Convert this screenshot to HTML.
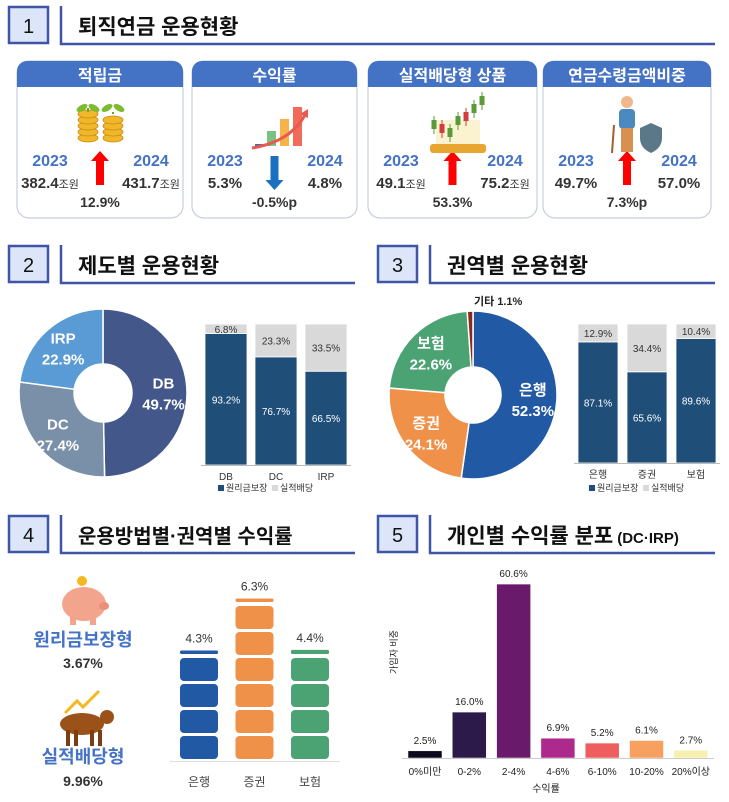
<!DOCTYPE html>
<html><head><meta charset="utf-8">
<style>
html,body{margin:0;padding:0;background:#fff;}
svg{display:block;font-family:"Liberation Sans","Noto Sans CJK KR",sans-serif;}
</style></head>
<body>
<svg id="main" width="729" height="802" viewBox="0 0 729 802" xmlns="http://www.w3.org/2000/svg">
<g id="headers"></g>
<g id="cards"></g>
<g id="donut1"></g><g id="bars1"></g>
<g id="donut2"></g><g id="bars2"></g>
<g id="sec4"></g><g id="blocks"></g>
<g id="hist"></g>
</svg>
<script>
const NS='http://www.w3.org/2000/svg';
function mk(parent,tag,attrs,text){const e=document.createElementNS(NS,tag);for(const k in attrs)e.setAttribute(k,attrs[k]);if(text!==undefined)e.textContent=text;parent.appendChild(e);return e;}
const $=id=>document.getElementById(id);

// ---------- data ----------
const sectionNums=['1','2','3','4','5'];
const sectionTitles=['퇴직연금  운용현황','제도별  운용현황','권역별  운용현황','운용방법별·권역별  수익률','개인별  수익률  분포'];
const cardTitles=['적립금','수익률','실적배당형 상품','연금수령금액비중'];
const cardV23=['382.4','5.3%','49.1','49.7%'];
const cardV24=['431.7','4.8%','75.2','57.0%'];
const cardUnit=['조원','','조원',''];
const cardChange=['12.9%','-0.5%p','53.3%','7.3%p'];
const cardUp=[true,false,true,true];

const d1Labels=['DB','DC','IRP'];
const d1Values=[49.7,27.4,22.9];
const b1Cats=['DB','DC','IRP'];
const b1Guar=[93.2,76.7,66.5];
const b1Perf=[6.8,23.3,33.5];

const d2Labels=['은행','증권','보험','기타'];
const d2Values=[52.3,24.1,22.6,1.1];
const b2Cats=['은행','증권','보험'];
const b2Guar=[87.1,65.6,89.6];
const b2Perf=[12.9,34.4,10.4];

const blkCats=['은행','증권','보험'];
const blkValues=[4.3,6.3,4.4];

const histCats=['0%미만','0-2%','2-4%','4-6%','6-10%','10-20%','20%이상'];
const histValues=[2.5,16.0,60.6,6.9,5.2,6.1,2.7];

// ---------- headers ----------
const H=$('headers');
const hdrPos=[{x:8,y:6,w:715},{x:8,y:245,w:355},{x:377,y:245,w:715},{x:8,y:515,w:355},{x:377,y:515,w:715}];
hdrPos.forEach((p,i)=>{
  const g=mk(H,'g',{});
  
  
  mk(g,'rect',{x:p.x+1,y:p.y+1,width:39,height:36,fill:'#dce6f8',stroke:'#3f55a5','stroke-width':2.5});
  mk(g,'text',{x:p.x+20.5,y:p.y+27,'font-size':20,'text-anchor':'middle',fill:'#111'},sectionNums[i]);
  mk(g,'line',{x1:p.x+53,y1:p.y,x2:p.x+53,y2:p.y+39,stroke:'#3f55a5','stroke-width':2.5});
  mk(g,'line',{x1:p.x+52,y1:p.y+38,x2:p.w,y2:p.y+38,stroke:'#3f55a5','stroke-width':2.5});
  const t=mk(g,'text',{x:p.x+70,y:p.y+28,'font-size':i==3?20:21,'font-weight':'bold',fill:'#111'},sectionTitles[i]);
  if(i==4){mk(t,'tspan',{'font-size':15,dx:4},'(DC·IRP)');}
});

// ---------- cards ----------
const C=$('cards');
const cardX=[17,192,368,543],cardW=[166,165,169,168];
cardTitles.forEach((t,i)=>{
  const x=cardX[i],w=cardW[i],cx=x+w/2;
  const g=mk(C,'g',{});
  
  
  mk(g,'rect',{x:x,y:61,width:w,height:157,rx:12,fill:'#fff',stroke:'#c7cedd','stroke-width':1.2});
  mk(g,'path',{d:`M${x} 87 V71 a10 10 0 0 1 10 -10 H${x+w-10} a10 10 0 0 1 10 10 V87 Z`,fill:'#4472c4'});
  mk(g,'text',{x:cx,y:81,'font-size':16,'font-weight':'bold',fill:'#fff','text-anchor':'middle'},t);
  mk(g,'text',{x:x+33,y:166,'font-size':16,'font-weight':'bold',fill:'#4472c4','text-anchor':'middle'},'2023');
  mk(g,'text',{x:x+w-32,y:166,'font-size':16,'font-weight':'bold',fill:'#4472c4','text-anchor':'middle'},'2024');
  const a=mk(g,'text',{x:x+33,y:188,'font-size':15,'font-weight':'bold',fill:'#333','text-anchor':'middle'},cardV23[i]);
  if(cardUnit[i]){mk(a,'tspan',{'font-size':11,'font-weight':'normal'},cardUnit[i]);}
  const b=mk(g,'text',{x:x+w-32,y:188,'font-size':15,'font-weight':'bold',fill:'#333','text-anchor':'middle'},cardV24[i]);
  if(cardUnit[i]){mk(b,'tspan',{'font-size':11,'font-weight':'normal'},cardUnit[i]);}
  mk(g,'text',{x:cx,y:207,'font-size':14,'font-weight':'bold',fill:'#333','text-anchor':'middle'},cardChange[i]);
  if(cardUp[i]){
    mk(g,'path',{d:`M${cx} 151 l-9 10 h5 v24 h8 v-24 h5 z`,fill:'#f00'});
  } else {
    mk(g,'path',{d:`M${cx} 190 l-9 -10 h5 v-24 h8 v24 h5 z`,fill:'#1a6fc0'});
  }
});
// icons
(function(){
  const g=mk(C,'g',{});
  [[88,5],[113,4]].forEach(([x,n])=>{for(let k=0;k<n;k++)mk(g,'ellipse',{cx:x,cy:138-k*6,rx:10,ry:4,fill:'#f0b72a',stroke:'#c98a10','stroke-width':0.8});
    mk(g,'line',{x1:x,y1:138-n*6,x2:x,y2:112,stroke:'#6aa32a','stroke-width':2});
    mk(g,'ellipse',{cx:x-6,cy:108,rx:6,ry:3,fill:'#7cbb2e',transform:`rotate(-30 ${x-6} 108)`});
    mk(g,'ellipse',{cx:x+6,cy:108,rx:6,ry:3,fill:'#7cbb2e',transform:`rotate(30 ${x+6} 108)`});});
  const g2=mk(C,'g',{});
  [['#3e6fa8',255,144],['#79c184',267,131],['#f7b24a',280,119],['#f26a5a',293,107]].forEach(([c,x,y])=>mk(g2,'rect',{x:x,y:y,width:9,height:146-y,fill:c}));
  mk(g2,'path',{d:'M252 148 Q290 142 305 115',stroke:'#e85a50','stroke-width':3,fill:'none'});
  mk(g2,'path',{d:'M300 114 l8 -5 l0 9 z',fill:'#e85a50'});
  const g3=mk(C,'g',{});
  mk(g3,'rect',{x:436,y:120,width:44,height:26,fill:'#fbf2d0'});
  mk(g3,'rect',{x:430,y:144,width:56,height:9,rx:3,fill:'#e8a630'});
  [[434,120,'#5a9a3a'],[442,124,'#d23c3c'],[450,128,'#5a9a3a'],[458,116,'#5a9a3a'],[466,112,'#d23c3c'],[474,104,'#5a9a3a'],[482,96,'#5a9a3a']].forEach(([x,y,c])=>{mk(g3,'line',{x1:x,y1:y-4,x2:x,y2:y+14,stroke:c,'stroke-width':1});mk(g3,'rect',{x:x-2.5,y:y,width:5,height:9,fill:c});});
  const g4=mk(C,'g',{});
  mk(g4,'circle',{cx:627,cy:102,r:6,fill:'#f0b888'});
  mk(g4,'rect',{x:619,y:109,width:16,height:20,rx:4,fill:'#4a8ac0'});
  mk(g4,'rect',{x:621,y:128,width:12,height:24,fill:'#d89050'});
  mk(g4,'line',{x1:614,y1:125,x2:612,y2:153,stroke:'#a06030','stroke-width':2});
  mk(g4,'path',{d:'M640 128 l11 -5 l11 5 v10 q0 10 -11 15 q-11 -5 -11 -15 z',fill:'#5a7888'});
})();

// ---------- donuts ----------
function donut(gid,cx,cy,R,r,labels,values,colors,inside,nameP){
  const g=$(gid);const tot=values.reduce((a,b)=>a+b,0);let a0=-Math.PI/2;
  values.forEach((v,i)=>{
    const a1=a0+v/tot*2*Math.PI;const big=(a1-a0)>Math.PI?1:0;
    const p=(rr,a)=>[cx+rr*Math.cos(a),cy+rr*Math.sin(a)];
    const [x0,y0]=p(R,a0),[x1,y1]=p(R,a1),[x2,y2]=p(r,a1),[x3,y3]=p(r,a0);
    const s=mk(g,'path',{d:`M${x0} ${y0} A${R} ${R} 0 ${big} 1 ${x1} ${y1} L${x2} ${y2} A${r} ${r} 0 ${big} 0 ${x3} ${y3} Z`,fill:colors[i],stroke:'#fff','stroke-width':1.5});
    
    
    const am=(a0+a1)/2;
    if(inside[i]){const [lx,ly]=p((R+r)/2+4,am);
      mk(g,'text',{x:lx,y:ly-4,'font-size':15,'font-weight':'bold',fill:'#fff','text-anchor':'middle'},labels[i]);
      mk(g,'text',{x:lx,y:ly+17,'font-size':15,'font-weight':'bold',fill:'#fff','text-anchor':'middle'},v.toFixed(1)+'%');
    } else {
      const [lx,ly]=p(R+4,am);
      mk(g,'text',{x:lx+4,y:ly-2,'font-size':11,'font-weight':'bold',fill:'#222'},labels[i]+' '+v.toFixed(1)+'%');
    }
    a0=a1;
  });
}
donut('donut1',103,393,84,29,d1Labels,d1Values,['#44578a','#7a8fa8','#5b9bd5'],[true,true,true],'donut-plan');
donut('donut2',473,395,84,28,d2Labels,d2Values,['#2159a5','#f0914a','#4ba374','#8b2a1a'],[true,true,true,false],'donut-sector');

// ---------- stacked bars ----------
function stacked(gid,x0,bw,gap,top,bot,cats,guar,perf,nameP){
  const g=$(gid);const h=bot-top;const ys=v=>v/100*h;
  cats.forEach((c,i)=>{
    const x=x0+i*(bw+gap);
    const gh=ys(guar[i]),ph=ys(perf[i]);
    const r1=mk(g,'rect',{x:x,y:bot-gh,width:bw,height:gh,fill:'#1f4e79',stroke:'#fff','stroke-width':0.8});
    
    
    const r2=mk(g,'rect',{x:x,y:bot-gh-ph,width:bw,height:ph,fill:'#d9d9d9',stroke:'#fff','stroke-width':0.8});
    
    
    mk(g,'text',{x:x+bw/2,y:bot-gh/2+4,'font-size':10,fill:'#fff','text-anchor':'middle'},guar[i].toFixed(1)+'%');
    mk(g,'text',{x:x+bw/2,y:bot-gh-ph/2+4,'font-size':10,fill:'#333','text-anchor':'middle'},perf[i].toFixed(1)+'%');
    mk(g,'text',{x:x+bw/2,y:bot+15,'font-size':10,fill:'#333','text-anchor':'middle'},c);
  });
  mk(g,'line',{x1:x0-4,y1:bot+0.5,x2:x0+cats.length*(bw+gap)-gap+4,y2:bot+0.5,stroke:'#bbb'});
  const lx=x0+(cats.length*(bw+gap)-gap)/2;
  const lg=mk(g,'g',{});
  mk(lg,'rect',{x:lx-58,y:485,width:6,height:6,fill:'#1f4e79'});
  mk(lg,'text',{x:lx-50,y:491,'font-size':9,fill:'#333'},'원리금보장');
  mk(lg,'rect',{x:lx-4,y:485,width:6,height:6,fill:'#d9d9d9'});
  mk(lg,'text',{x:lx+4,y:491,'font-size':9,fill:'#333'},'실적배당');
}
stacked('bars1',205,42,8,324,465,b1Cats,b1Guar,b1Perf,'plan-bar');
stacked('bars2',578,40,9,324,463,b2Cats,b2Guar,b2Perf,'sector-bar');

// ---------- section 4 ----------
(function(){
  const g=$('sec4');
  const pig=mk(g,'g',{});
  mk(pig,'circle',{cx:82,cy:581,r:5,fill:'#f5b820'});
  mk(pig,'ellipse',{cx:84,cy:604,rx:22,ry:17,fill:'#f2a58c'});
  mk(pig,'rect',{x:70,y:615,width:6,height:10,fill:'#f2a58c'});mk(pig,'rect',{x:90,y:615,width:6,height:10,fill:'#f2a58c'});
  mk(pig,'ellipse',{cx:104,cy:606,rx:5,ry:4,fill:'#e8907a'});
  mk(g,'text',{x:83,y:646,'font-size':18,'font-weight':'bold',fill:'#4472c4','text-anchor':'middle'},'원리금보장형');
  mk(g,'text',{x:83,y:668,'font-size':14,'font-weight':'bold',fill:'#333','text-anchor':'middle'},'3.67%');
  const bull=mk(g,'g',{});
  mk(bull,'path',{d:'M65 713 l12 -12 l6 6 l16 -16',stroke:'#f5b820','stroke-width':3,fill:'none'});
  mk(bull,'ellipse',{cx:82,cy:724,rx:22,ry:11,fill:'#9a5218'});
  mk(bull,'circle',{cx:107,cy:717,r:7,fill:'#9a5218'});
  [66,74,90,98].forEach(x=>mk(bull,'rect',{x:x,y:730,width:4,height:16,fill:'#7a3e10'}));
  mk(g,'text',{x:83,y:763,'font-size':18,'font-weight':'bold',fill:'#4472c4','text-anchor':'middle'},'실적배당형');
  mk(g,'text',{x:83,y:786,'font-size':14,'font-weight':'bold',fill:'#333','text-anchor':'middle'},'9.96%');
})();
(function(){
  const g=$('blocks');const base=760,perUnit=26,bw=38,cols=['#2159a5','#f0914a','#4ba374'];
  blkCats.forEach((c,i)=>{
    const x=180+i*55.5;const full=Math.floor(blkValues[i]);
    for(let k=0;k<full;k++){
      const r=mk(g,'rect',{x:x,y:base-(k+1)*perUnit+2,width:bw,height:perUnit-3,rx:4,fill:cols[i]});
      
      
    }
    const frac=blkValues[i]-full;const fh=Math.max(3,frac*perUnit*0.2+2);
    const top=base-full*perUnit-fh-2;
    const r=mk(g,'rect',{x:x,y:top,width:bw,height:fh,rx:1.5,fill:cols[i]});
    
    
    mk(g,'text',{x:x+bw/2,y:top-8,'font-size':12,fill:'#333','text-anchor':'middle'},blkValues[i].toFixed(1)+'%');
    mk(g,'text',{x:x+bw/2,y:786,'font-size':12,fill:'#444','text-anchor':'middle'},c);
  });
  mk(g,'line',{x1:170,y1:761.5,x2:340,y2:761.5,stroke:'#ddd'});
})();

// ---------- histogram ----------
(function(){
  const g=$('hist');const base=758,scale=2.87,bw=34,colors=['#0d0a1e','#2c1a4a','#6a1a6a','#ad2a8c','#ef5e5e','#f8a060','#f5f0b0'];
  const xc=i=>425+i*44.3;
  histCats.forEach((c,i)=>{
    const h=histValues[i]*scale;
    const r=mk(g,'rect',{x:xc(i)-bw/2,y:base-h,width:bw,height:h,fill:colors[i],stroke:'#fff','stroke-width':0.5});
    
    
    mk(g,'text',{x:xc(i),y:base-h-7,'font-size':10,fill:'#222','text-anchor':'middle'},histValues[i].toFixed(1)+'%');
    mk(g,'text',{x:xc(i),y:775,'font-size':10,fill:'#222','text-anchor':'middle'},c);
  });
  mk(g,'line',{x1:402,y1:base+0.5,x2:714,y2:base+0.5,stroke:'#ccc'});
  const yt=mk(g,'text',{x:0,y:0,'font-size':9,fill:'#222','text-anchor':'middle',transform:'translate(397,652) rotate(-90)'},'가입자 비중');
  
  const xt=mk(g,'text',{x:546,y:792,'font-size':10,fill:'#222','text-anchor':'middle'},'수익률');
  
})();
</script>
</body></html>
